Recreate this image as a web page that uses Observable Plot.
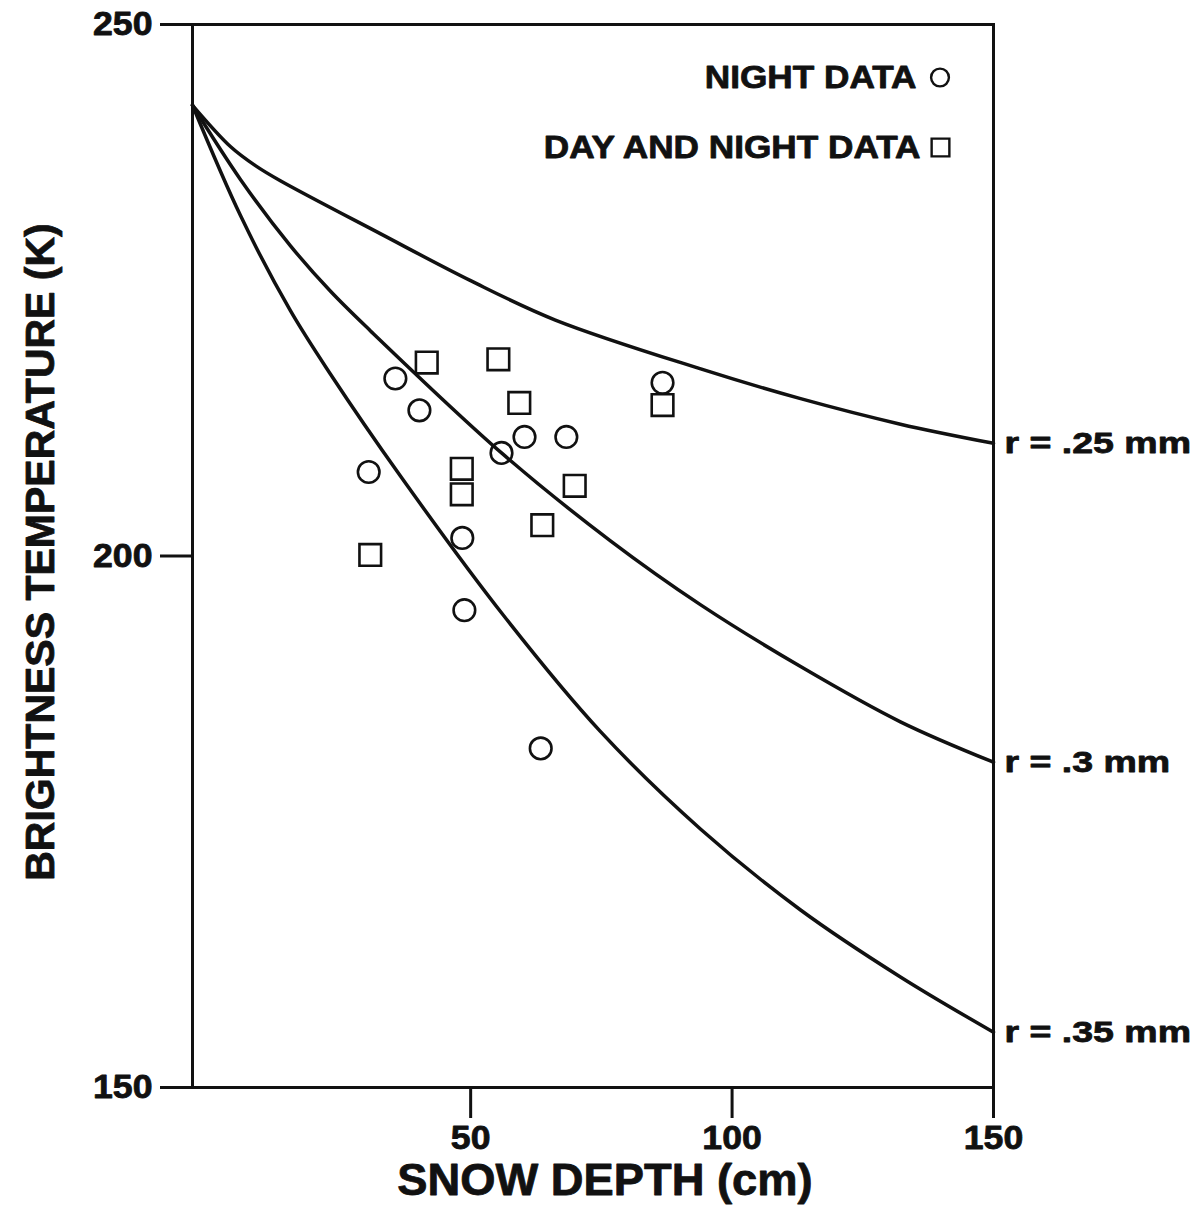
<!DOCTYPE html>
<html>
<head>
<meta charset="utf-8">
<script src="https://cdn.jsdelivr.net/npm/d3@7"></script>
<script src="https://cdn.jsdelivr.net/npm/@observablehq/plot@0.6"></script>
<style>
  html, body { margin: 0; padding: 0; background: #fff; }
  svg { font-family: "Liberation Sans", Arial, Helvetica, sans-serif; }
</style>
</head>
<body>
<div id="chart"></div>
<script>
// ---- data ----
const xTicks = [50, 100, 150];
const yTicks = [150, 200, 250];

const curveNames = ["r = .25 mm", "r = .3 mm", "r = .35 mm"];
const depth25 = [-3.2, 4.1, 8.9, 13.6, 32.8, 50.0, 66.2, 94.0, 113.1, 132.2, 150];
const tb25    = [242.4, 238.5, 236.7, 235.3, 230.3, 225.9, 222.2, 217.6, 214.8, 212.4, 210.6];
const depth30 = [-3.2, 6.0, 15.5, 23.2, 30.8, 55.9, 76.8, 94.0, 113.1, 132.2, 150];
const tb30    = [242.4, 235.4, 229.2, 224.9, 221.2, 209.7, 201.4, 195.4, 189.6, 184.4, 180.6];
const depth35 = [-3.2, 6.0, 15.5, 23.2, 36.6, 56.3, 74.8, 94.0, 113.1, 132.2, 150];
const tb35    = [242.4, 232.0, 223.1, 217.1, 207.5, 194.4, 183.5, 174.3, 166.7, 160.4, 155.2];

const nightDepth = [30.5, 35.6, 40.2, 48.4, 48.8, 55.9, 60.3, 68.3, 86.7, 63.4];
const nightTb    = [207.9, 216.7, 213.7, 201.7, 194.9, 209.7, 211.2, 211.2, 216.3, 181.9];
const dayNightDepth = [30.8, 41.6, 55.3, 59.3, 48.3, 48.3, 69.9, 63.7, 86.7];
const dayNightTb    = [200.1, 218.2, 218.5, 214.4, 208.2, 205.8, 206.6, 202.9, 214.2];

const legendNames = ["NIGHT DATA", "DAY AND NIGHT DATA"];
const xLabel = "SNOW DEPTH (cm)";
const yLabel = "BRIGHTNESS TEMPERATURE (K)";

// ---- build tables ----
const curveDepths = [depth25, depth30, depth35];
const curveTbs = [tb25, tb30, tb35];
const curves = curveNames.flatMap((name, i) =>
  curveDepths[i].map((d, j) => ({name, depth: d, tb: curveTbs[i][j]})));
const curveEnds = curveNames.map((name, i) => ({
  name,
  depth: curveDepths[i][curveDepths[i].length - 1],
  tb: curveTbs[i][curveTbs[i].length - 1]
}));
const night = nightDepth.map((d, i) => ({depth: d, tb: nightTb[i]}));
const dayNight = dayNightDepth.map((d, i) => ({depth: d, tb: dayNightTb[i]}));

const ink = "#111";
const font = "'Liberation Sans', Arial, Helvetica, sans-serif";

const chart = Plot.plot({
  width: 1204,
  height: 1206,
  marginLeft: 192,
  marginRight: 211,
  marginTop: 24,
  marginBottom: 119,
  style: {background: "#fff", color: ink, fontFamily: font},
  x: {domain: [-3.2, 150]},
  y: {domain: [150, 250]},
  marks: [
    Plot.frame({stroke: ink, strokeWidth: 3}),
    Plot.axisX({ticks: xTicks, tickSize: 31, tickPadding: 7, label: null,
      fontSize: 33, fontWeight: "bold", stroke: ink, strokeWidth: 3, fill: ink}),
    Plot.axisY({ticks: yTicks, tickSize: 32, tickPadding: 8, label: null,
      fontSize: 33, fontWeight: "bold", stroke: ink, strokeWidth: 3, fill: ink}),
    Plot.line(curves, {x: "depth", y: "tb", z: "name", curve: "catmull-rom",
      stroke: ink, strokeWidth: 3.5}),
    Plot.text(curveEnds, {x: "depth", y: "tb", text: "name", textAnchor: "start",
      lineAnchor: "middle", dx: 11, fontSize: 30, fontWeight: "bold", fill: ink}),
    Plot.dot(night, {x: "depth", y: "tb", r: 10.8, symbol: "circle",
      fill: "none", stroke: ink, strokeWidth: 2.6}),
    Plot.dot(dayNight, {x: "depth", y: "tb", r: 12.2, symbol: "square",
      fill: "none", stroke: ink, strokeWidth: 2.6}),
    // legend
    Plot.text([legendNames[0]], {text: d => d, frameAnchor: "top-right", dx: -77, dy: 53,
      textAnchor: "end", lineAnchor: "middle", fontSize: 32, fontWeight: "bold", fill: ink}),
    Plot.text([legendNames[1]], {text: d => d, frameAnchor: "top-right", dx: -73, dy: 123,
      textAnchor: "end", lineAnchor: "middle", fontSize: 32, fontWeight: "bold", fill: ink}),
    Plot.dot([legendNames[0]], {frameAnchor: "top-right", dx: -53.5, dy: 53, r: 8.9,
      symbol: "circle", fill: "none", stroke: ink, strokeWidth: 2.4}),
    Plot.dot([legendNames[1]], {frameAnchor: "top-right", dx: -53, dy: 123, r: 10,
      symbol: "square", fill: "none", stroke: ink, strokeWidth: 2.4}),
    // axis titles
    Plot.text([xLabel], {text: d => d, frameAnchor: "bottom", dx: 12, dy: 93,
      textAnchor: "middle", lineAnchor: "middle",
      fontSize: 44, fontWeight: "bold", fill: ink}),
    Plot.text([yLabel], {text: d => d, frameAnchor: "left", rotate: -90, dx: -152, dy: -4,
      textAnchor: "middle", lineAnchor: "middle",
      fontSize: 41, fontWeight: "bold", fill: ink})
  ]
});

// the original lettering is wider and heavier than Liberation Sans: stretch horizontally
const stretchBy = new Map([
  ...curveNames.map(n => [n, 1.25]),
  ...legendNames.map(n => [n, 1.1]),
  [xLabel, 1.03],
  ...[...xTicks, ...yTicks].map(t => [String(t), 1.08])
]);
d3.select(chart).selectAll("text").each(function () {
  this.style.stroke = ink;
  this.style.strokeWidth = "0.8px";
  this.style.strokeLinejoin = "round";
  const s = stretchBy.get(this.textContent);
  if (!s) return;
  const t = this.getAttribute("transform") || "";
  this.setAttribute("transform", `${t} scale(${s},1)`.trim());
});
document.getElementById("chart").appendChild(chart);
</script>
</body>
</html>
